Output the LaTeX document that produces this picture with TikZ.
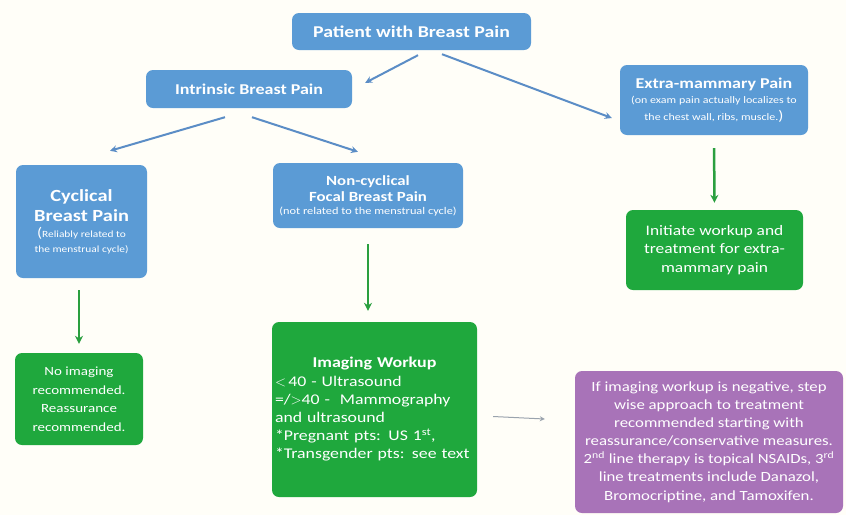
\documentclass[tikz,border=0pt]{standalone}
\usepackage{fontspec}
\setmainfont{Carlito}[FakeStretch=1.2]
\usetikzlibrary{arrows.meta}
\definecolor{bluebox}{HTML}{5B9BD5}
\definecolor{greenbox}{HTML}{1FA83D}
\definecolor{purplebox}{HTML}{A873B8}
\definecolor{bluearrow}{HTML}{5B8DC6}
\definecolor{greenarrow}{HTML}{2A9F3F}
\definecolor{grayarrow}{HTML}{9AA3AD}
\definecolor{bgcol}{HTML}{FFFEF8}
\begin{document}
\begin{tikzpicture}[x=1pt,y=-1pt,
  box/.style={rounded corners=7pt, text=white, align=center, inner sep=1pt, draw=none},
  bbox/.style={box, fill=bluebox},
  gbox/.style={box, fill=greenbox},
  pbox/.style={box, fill=purplebox},
  barrow/.style={draw=bluearrow, line width=2pt, -{Stealth[length=7pt,width=7pt]}},
  garrow/.style={draw=greenarrow, line width=2.5pt, -{Stealth[length=8pt,width=8pt]}},
  thinarrow/.style={draw=grayarrow, line width=1pt, -{Stealth[length=5pt,width=5pt]}}
]
\fill[bgcol] (0,0) rectangle (846,515);
\useasboundingbox (0,0) rectangle (846,515);

\node[bbox, minimum width=239pt, minimum height=37pt, font=\fontsize{16.5}{18}\selectfont\bfseries] (top) at (411.5,31.5) {Patient with Breast Pain};

\node[bbox, minimum width=206pt, minimum height=38pt, font=\fontsize{15}{17}\selectfont\bfseries] (intr) at (249,89) {Intrinsic Breast Pain};

\node[bbox, minimum width=188pt, minimum height=70pt] (extra) at (714,100)
  {{\fontsize{15}{17}\selectfont\bfseries Extra-mammary Pain}\\[3pt]
   {\fontsize{10}{18}\selectfont (on exam pain actually localizes to}\\[5pt]
   {\fontsize{10}{18}\selectfont the chest wall, ribs, muscle.{\fontsize{14}{14}\selectfont)}}};

\node[bbox, minimum width=131pt, minimum height=113pt] (cyc) at (81.5,221.5)
  {{\fontsize{17}{20}\selectfont\bfseries Cyclical}\\[4pt]
   {\fontsize{17}{20}\selectfont\bfseries Breast Pain}\\[4pt]
   {\fontsize{9.5}{16}\selectfont{\fontsize{14}{14}\selectfont(}Reliably related to}\\[3pt]
   {\fontsize{9.5}{15}\selectfont the menstrual cycle)}};

\node[bbox, minimum width=190pt, minimum height=65pt] (noncyc) at (368,195.5)
  {{\fontsize{14}{18}\selectfont\bfseries Non-cyclical}\\[3pt]
   {\fontsize{14}{18}\selectfont\bfseries Focal Breast Pain}\\[1pt]
   {\fontsize{10.3}{13}\selectfont (not related to the menstrual cycle)}};

\node[gbox, minimum width=177pt, minimum height=80pt, font=\fontsize{14.5}{18.5}\selectfont] (init) at (714.5,250)
  {Initiate workup and\\treatment for extra-\\mammary pain};

\node[gbox, minimum width=128pt, minimum height=92pt, font=\fontsize{12.5}{18.5}\selectfont] (noimg) at (79,399)
  {No imaging\\recommended.\\Reassurance\\recommended.};

\node[gbox, minimum width=205pt, minimum height=175pt, align=left, text width=199pt, font=\fontsize{14.8}{18.2}\selectfont] (img) at (374.5,409.5)
  {\makebox[199pt]{\fontsize{15}{18}\selectfont\bfseries Imaging Workup}\\
   $<$\,40 - Ultrasound\\
   =/$>$40 -\ \ Mammography\\
   and ultrasound\\
   {*}Pregnant pts: US 1\textsuperscript{st},\\
   {*}Transgender pts: see text};

\node[pbox, minimum width=268pt, minimum height=142pt, font=\fontsize{14}{18.1}\selectfont] (purp) at (709,442)
  {If imaging workup is negative, step\\
   wise approach to treatment\\
   recommended starting with\\
   reassurance/conservative measures.\\
   2\textsuperscript{nd} line therapy is topical NSAIDs, 3\textsuperscript{rd}\\
   line treatments include Danazol,\\
   Bromocriptine, and Tamoxifen.};

% blue arrows
\draw[barrow] ([shift={(6.5,5)}]top.south) -- ([shift={(13,13)}]intr.north east);
\draw[barrow] ([shift={(30.5,4)}]top.south) -- ([shift={(-8,18)}]extra.west);
\draw[barrow] ([shift={(-24,9)}]intr.south) -- ([shift={(28.5,-14)}]cyc.north);
\draw[barrow] ([shift={(3,9)}]intr.south) -- ([shift={(-10,-11)}]noncyc.north);

% green arrows
\draw[garrow, shorten <=12pt, shorten >=9pt] ([xshift=-2.5pt]cyc.south) -- ([xshift=0pt]noimg.north);
\draw[garrow, shorten <=16pt, shorten >=11pt] (noncyc.south) -- ([xshift=-6.5pt]img.north);
\draw[garrow, shorten <=13pt, shorten >=7pt] (extra.south) -- (init.north);

% thin arrow
\draw[thinarrow] ([shift={(16,7)}]img.east) -- ([shift={(-30,-23)}]purp.west);
\end{tikzpicture}
\end{document}
